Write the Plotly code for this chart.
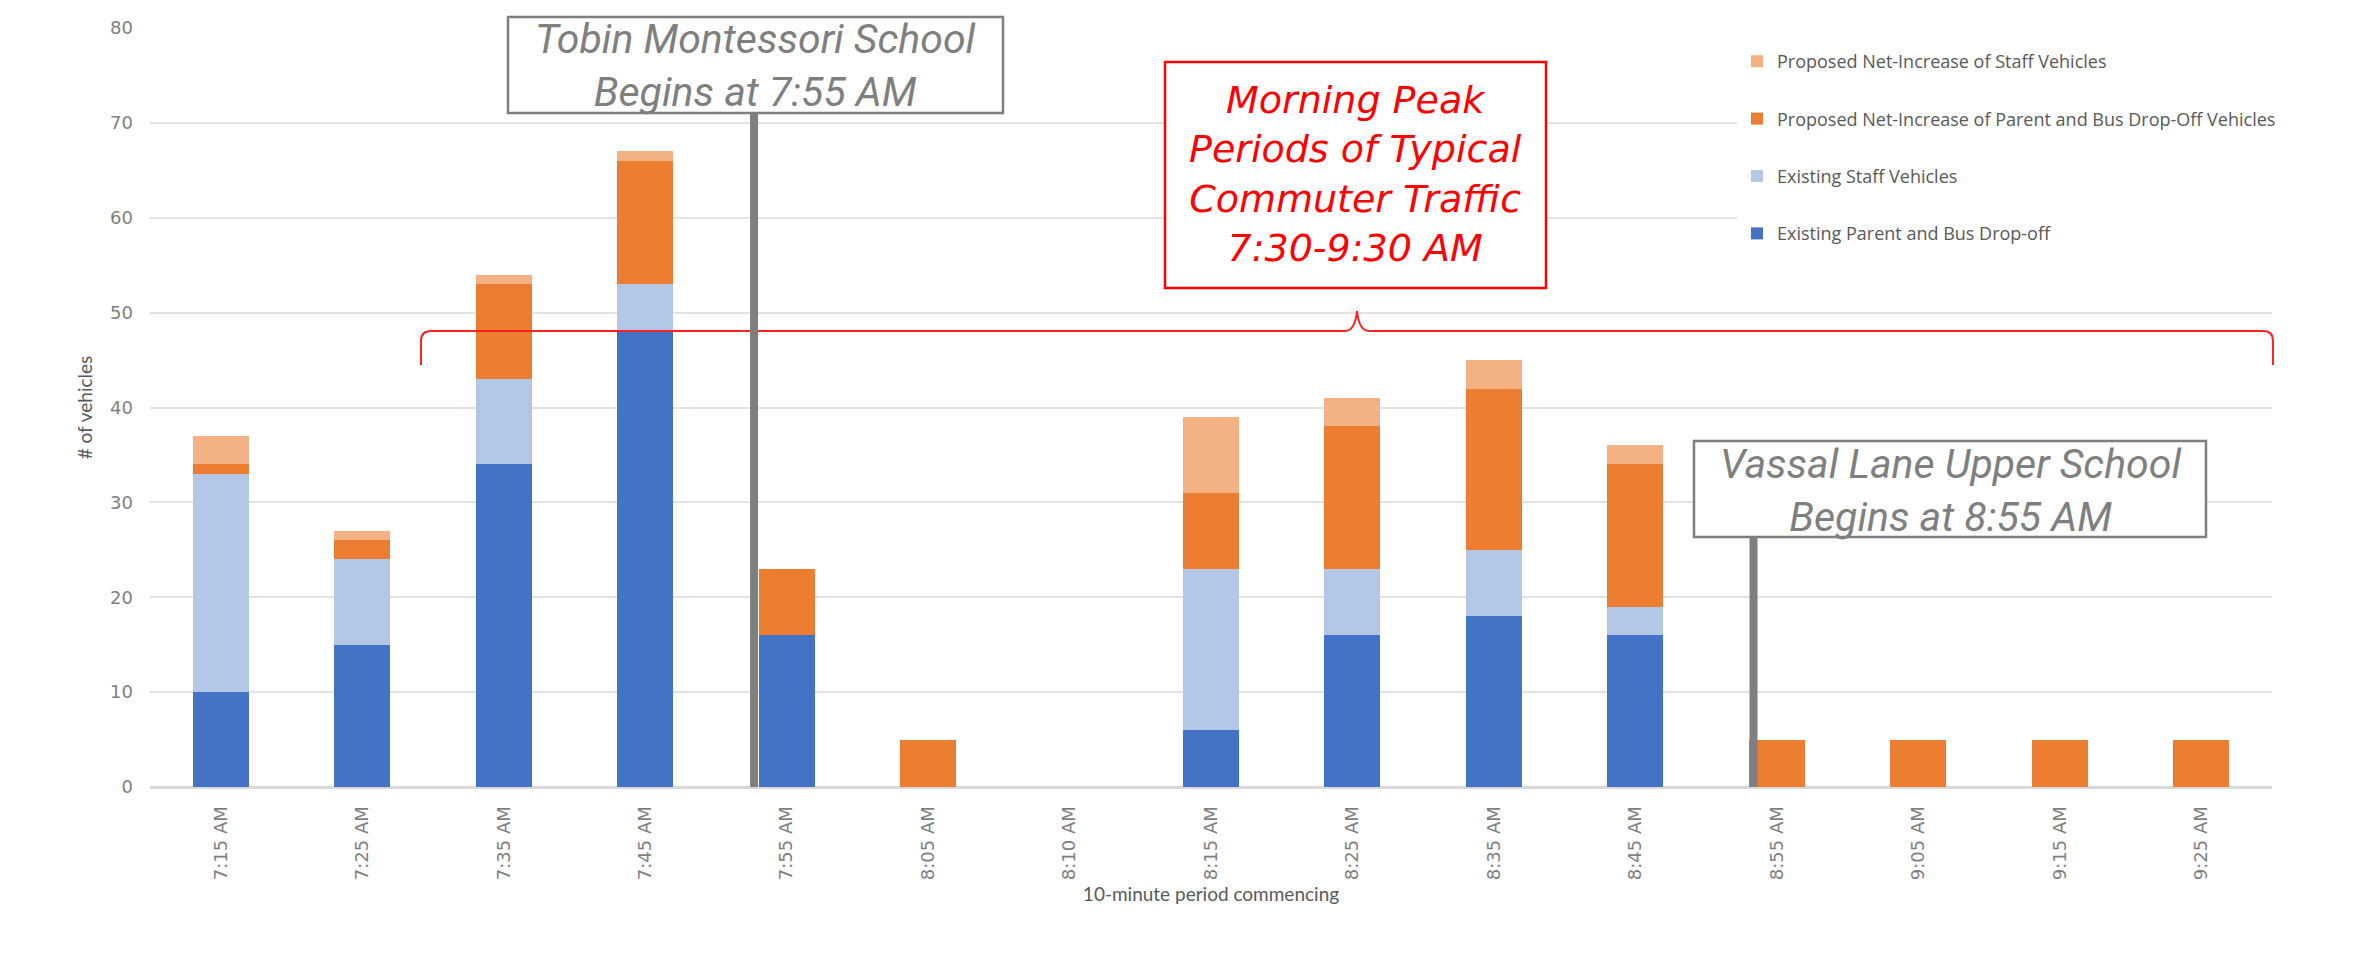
import plotly.graph_objects as go

# ---------------- data ----------------
periods = ["7:15 AM", "7:25 AM", "7:35 AM", "7:45 AM", "7:55 AM", "8:05 AM", "8:10 AM",
           "8:15 AM", "8:25 AM", "8:35 AM", "8:45 AM", "8:55 AM", "9:05 AM", "9:15 AM", "9:25 AM"]
existing_parent_bus = [10, 15, 34, 48, 16, 0, 0, 6, 16, 18, 16, 0, 0, 0, 0]
existing_staff = [23, 9, 9, 5, 0, 0, 0, 17, 7, 7, 3, 0, 0, 0, 0]
proposed_parent_bus = [1, 2, 10, 13, 7, 5, 0, 8, 15, 17, 15, 5, 5, 5, 5]
proposed_staff = [3, 1, 1, 1, 0, 0, 0, 8, 3, 3, 2, 0, 0, 0, 0]
y_ticks = [0, 10, 20, 30, 40, 50, 60, 70, 80]

series = [
    ("Existing Parent and Bus Drop-off", existing_parent_bus, "#4472C4"),
    ("Existing Staff Vehicles", existing_staff, "#B4C7E7"),
    ("Proposed Net-Increase of Parent and Bus Drop-Off Vehicles", proposed_parent_bus, "#ED7D31"),
    ("Proposed Net-Increase of Staff Vehicles", proposed_staff, "#F4B183"),
]

# ---------------- layout geometry (pixels) ----------------
W, H = 2357, 969
L, R, T, B = 150, 85, 28, 182
PW = W - L - R
PH = H - T - B


def px(x):
    return (x - L) / PW


def py(y):
    return (H - B - y) / PH


fig = go.Figure()
for i, (name, vals, col) in enumerate(series):
    fig.add_trace(go.Bar(
        x=periods, y=vals, name=name, legendgroup=f"g{i}", legendrank=1000 - i,
        marker=dict(color=col, line=dict(width=0)),
    ))

shapes = []
annotations = []

# red curly bracket (morning peak period)
yb, ye, ym = 331, 365, 311
x0b, x1b, xm = 421, 2273, 1357
path = (
    f"M {px(x0b)},{py(ye)} L {px(x0b)},{py(yb + 10)} "
    f"Q {px(x0b)},{py(yb)} {px(x0b + 10)},{py(yb)} "
    f"L {px(xm - 12)},{py(yb)} "
    f"Q {px(xm - 2)},{py(yb)} {px(xm)},{py(ym)} "
    f"Q {px(xm + 2)},{py(yb)} {px(xm + 12)},{py(yb)} "
    f"L {px(x1b - 10)},{py(yb)} "
    f"Q {px(x1b)},{py(yb)} {px(x1b)},{py(yb + 10)} "
    f"L {px(x1b)},{py(ye)}"
)
shapes.append(dict(type="path", xref="paper", yref="paper", path=path,
                   line=dict(color="#FF2020", width=2), layer="above"))

# gray vertical marker lines
i_tobin = periods.index("7:55 AM")
i_vassal = periods.index("8:55 AM")
shapes.append(dict(type="line", xref="x", yref="paper",
                   x0=i_tobin - 0.23, x1=i_tobin - 0.23, y0=0, y1=py(113),
                   line=dict(color="#7F7F7F", width=8), layer="above"))
shapes.append(dict(type="line", xref="x", yref="paper",
                   x0=i_vassal - 0.165, x1=i_vassal - 0.165, y0=0, y1=py(537),
                   line=dict(color="#7F7F7F", width=8), layer="above"))


def box(x0, y0, x1, y1, col):
    return dict(type="rect", xref="paper", yref="paper",
                x0=px(x0), x1=px(x1), y0=py(y1), y1=py(y0),
                fillcolor="white", line=dict(color=col, width=2.5), layer="above")


shapes.append(box(508, 17, 1003, 113, "#7F7F7F"))
shapes.append(box(1694, 441, 2206, 537, "#7F7F7F"))
shapes.append(box(1165, 62, 1546, 288, "#FF0000"))

annotations.append(dict(
    xref="paper", yref="paper", x=px(755.5), y=py(66), xanchor="center", yanchor="middle",
    text="Tobin Montessori School<br>Begins at 7:55 AM", showarrow=False,
    font=dict(family="Roboto", size=41, color="#7F7F7F", style="italic")))
annotations.append(dict(
    xref="paper", yref="paper", x=px(1950), y=py(490), xanchor="center", yanchor="middle",
    text="Vassal Lane Upper School<br>Begins at 8:55 AM", showarrow=False,
    font=dict(family="Roboto", size=41, color="#7F7F7F", style="italic")))
annotations.append(dict(
    xref="paper", yref="paper", x=px(1355.5), y=py(174), xanchor="center", yanchor="middle",
    text="Morning Peak<br>Periods of Typical<br>Commuter Traffic<br>7:30-9:30 AM", showarrow=False,
    font=dict(family="DejaVu Sans", size=38, color="#FF0000", style="italic")))

fig.update_layout(
    width=W, height=H,
    margin=dict(l=L, r=R, t=T, b=B, pad=0),
    paper_bgcolor="white", plot_bgcolor="white",
    barmode="stack", bargap=0.604,
    shapes=shapes, annotations=annotations,
    showlegend=True,
    legend=dict(
        x=px(1737), y=py(43), xanchor="left", yanchor="top",
        traceorder="grouped", tracegroupgap=31,
        bgcolor="white", borderwidth=0,
        font=dict(family="Open Sans", size=18, color="#595959"),
    ),
    xaxis=dict(
        type="category", categoryorder="array", categoryarray=periods,
        tickangle=-90, tickfont=dict(family="DejaVu Sans", size=18, color="#7F7F7F"),
        showgrid=False, showline=True, linecolor="#D9D9D9", linewidth=2,
        ticks="", ticklabelstandoff=10,
        title=dict(text="10-minute period commencing", standoff=8,
                   font=dict(family="Lato", size=19, color="#595959")),
    ),
    yaxis=dict(
        range=[0, 80], tickvals=y_ticks,
        tickfont=dict(family="DejaVu Sans", size=18, color="#7F7F7F"),
        showgrid=True, gridcolor="#E3E3E3", gridwidth=2,
        zeroline=True, zerolinecolor="#D9D9D9", zerolinewidth=2,
        showline=False, ticks="", ticklabelstandoff=16,
        title=dict(text="# of vehicles", standoff=12,
                   font=dict(family="Lato", size=19, color="#595959")),
    ),
)

fig.write_html("out.html", config={"displayModeBar": False},
               post_script="document.body.style.margin='0';")
